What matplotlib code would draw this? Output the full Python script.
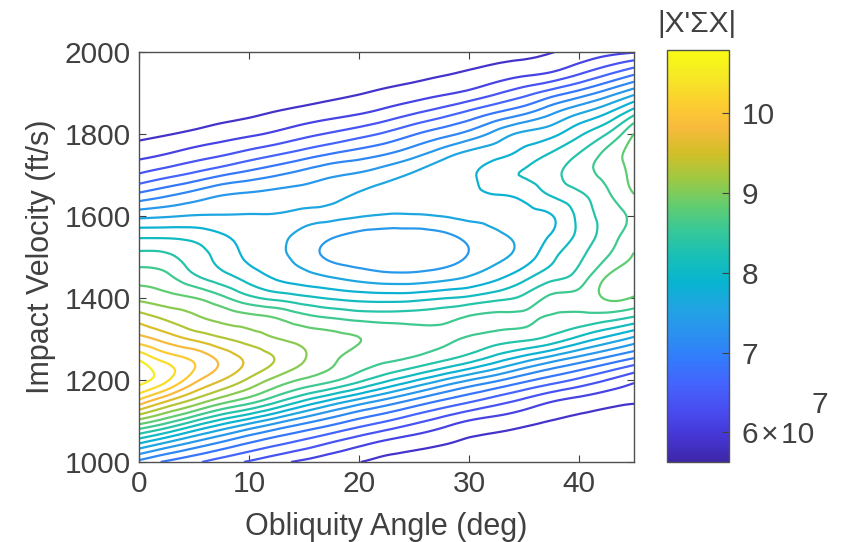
import numpy as np
import matplotlib
matplotlib.use("Agg")
import matplotlib.pyplot as plt
import matplotlib.tri as mtri
from matplotlib.colors import LinearSegmentedColormap, Normalize
from matplotlib.cm import ScalarMappable

# ---------------- data ----------------
angles = [0, 2.5, 5, 7.5, 10, 12.5, 15, 17.5, 20, 22.5, 25, 27.5, 30,
          32.5, 35, 37.5, 40, 42.5, 45]                       # deg
velocities = [1000, 1050, 1100, 1150, 1200, 1250, 1300, 1350, 1400, 1450,
              1500, 1550, 1600, 1650, 1700, 1750, 1800, 1850, 1900, 1950, 2000]  # ft/s

# |X'SX| in units of 1e7; one row per angle, values along the velocity grid
det_by_angle = [
    [7.03, 7.94, 8.99, 10.01, 10.65, 10.53, 9.91, 9.46, 9.01, 8.72, 8.43, 8.05, 7.53, 6.94, 6.40, 6.05, 5.80, 5.60, 5.45, 5.30, 5.14],
    [6.82, 7.64, 8.69, 9.60, 10.34, 10.22, 9.71, 9.28, 8.92, 8.64, 8.39, 8.05, 7.57, 7.08, 6.54, 6.13, 5.86, 5.65, 5.49, 5.34, 5.19],
    [6.66, 7.36, 8.34, 9.26, 9.89, 10.02, 9.52, 9.12, 8.83, 8.39, 8.20, 8.01, 7.61, 7.22, 6.68, 6.24, 5.93, 5.71, 5.54, 5.38, 5.23],
    [6.49, 7.12, 8.01, 8.95, 9.57, 9.75, 9.35, 9.01, 8.64, 8.19, 8.01, 7.88, 7.61, 7.35, 6.84, 6.34, 6.01, 5.77, 5.58, 5.43, 5.28],
    [6.34, 6.90, 7.73, 8.71, 9.27, 9.51, 9.21, 8.92, 8.40, 7.99, 7.79, 7.73, 7.61, 7.40, 6.97, 6.47, 6.08, 5.83, 5.63, 5.47, 5.32],
    [6.19, 6.72, 7.45, 8.41, 8.99, 9.30, 9.08, 8.83, 8.26, 7.81, 7.66, 7.65, 7.61, 7.44, 7.09, 6.60, 6.17, 5.90, 5.69, 5.52, 5.36],
    [6.07, 6.56, 7.20, 8.09, 8.79, 9.08, 8.99, 8.68, 8.15, 7.70, 7.49, 7.52, 7.63, 7.47, 7.21, 6.74, 6.29, 5.97, 5.74, 5.56, 5.41],
    [5.97, 6.39, 6.99, 7.80, 8.63, 8.87, 8.90, 8.59, 8.06, 7.60, 7.30, 7.38, 7.63, 7.52, 7.32, 6.88, 6.40, 6.04, 5.80, 5.61, 5.45],
    [5.88, 6.23, 6.79, 7.53, 8.40, 8.71, 8.83, 8.52, 8.00, 7.51, 7.22, 7.26, 7.61, 7.63, 7.39, 6.99, 6.52, 6.11, 5.86, 5.66, 5.50],
    [5.81, 6.09, 6.62, 7.29, 8.14, 8.62, 8.75, 8.49, 7.98, 7.45, 7.18, 7.22, 7.57, 7.68, 7.51, 7.11, 6.66, 6.22, 5.93, 5.72, 5.54],
    [5.75, 6.00, 6.44, 7.06, 7.88, 8.53, 8.68, 8.49, 8.00, 7.45, 7.18, 7.22, 7.57, 7.70, 7.63, 7.28, 6.84, 6.36, 6.00, 5.78, 5.59],
    [5.68, 5.92, 6.27, 6.85, 7.61, 8.38, 8.62, 8.52, 8.07, 7.51, 7.24, 7.28, 7.60, 7.72, 7.73, 7.49, 7.01, 6.51, 6.08, 5.84, 5.63],
    [5.62, 5.84, 6.11, 6.67, 7.36, 8.19, 8.55, 8.61, 8.14, 7.62, 7.37, 7.42, 7.65, 7.77, 7.80, 7.67, 7.19, 6.69, 6.18, 5.90, 5.69],
    [5.57, 5.78, 6.03, 6.49, 7.15, 7.94, 8.45, 8.64, 8.26, 7.79, 7.54, 7.55, 7.68, 7.83, 7.99, 7.77, 7.44, 6.89, 6.34, 5.98, 5.75],
    [5.53, 5.71, 5.95, 6.32, 6.93, 7.69, 8.38, 8.62, 8.40, 8.02, 7.71, 7.67, 7.77, 7.90, 8.10, 7.93, 7.65, 7.08, 6.52, 6.05, 5.81],
    [5.48, 5.65, 5.87, 6.15, 6.74, 7.45, 8.24, 8.54, 8.62, 8.26, 8.03, 7.87, 7.83, 8.10, 8.25, 8.12, 7.77, 7.33, 6.73, 6.13, 5.87],
    [5.43, 5.60, 5.81, 6.05, 6.56, 7.23, 8.00, 8.49, 8.65, 8.44, 8.29, 8.15, 8.15, 8.28, 8.47, 8.35, 8.04, 7.59, 6.95, 6.32, 5.95],
    [5.39, 5.55, 5.74, 5.97, 6.37, 7.02, 7.76, 8.42, 8.85, 8.84, 8.57, 8.45, 8.43, 8.53, 8.64, 8.65, 8.33, 7.84, 7.21, 6.54, 6.04],
    [5.34, 5.50, 5.68, 5.91, 6.18, 6.81, 7.52, 8.27, 8.80, 8.92, 8.85, 8.70, 8.63, 8.81, 8.91, 8.93, 8.83, 8.27, 7.52, 6.78, 6.10],
]

color_min, color_max = 5.63, 10.79      # colour-bar limits (x 1e7)
n_levels = 20
x_ticks = [0, 10, 20, 30, 40]
y_ticks = [1000, 1200, 1400, 1600, 1800, 2000]
cbar_ticks = [6, 7, 8, 9, 10]
cbar_ticklabels = ["6\u200a×\u200a10", "7", "8", "9", "10"]
cbar_exponent = "7"
x_label = "Obliquity Angle (deg)"
y_label = "Impact Velocity (ft/s)"
cbar_title = "|X'ΣX|"

# ---------------- style ----------------
parula_anchors = [
    (0.2422, 0.1504, 0.6603), (0.2706, 0.2147, 0.8364), (0.2813, 0.3006, 0.9414),
    (0.2699, 0.3892, 0.9906), (0.1963, 0.4847, 0.9892), (0.1687, 0.5703, 0.9359),
    (0.1248, 0.6459, 0.8883), (0.0297, 0.7082, 0.8163), (0.0964, 0.7500, 0.7120),
    (0.2161, 0.7843, 0.5923), (0.3909, 0.8029, 0.4354), (0.6174, 0.7876, 0.2612),
    (0.8203, 0.7498, 0.1535), (0.9728, 0.7298, 0.2394), (0.9892, 0.8136, 0.1885),
    (0.9597, 0.9135, 0.1423), (0.9769, 0.9839, 0.0805)]
parula = LinearSegmentedColormap.from_list("parula", parula_anchors, N=256)

TXT = "#404040"
plt.rcParams["font.family"] = ["Liberation Sans", "DejaVu Sans"]

fig = plt.figure(figsize=(8.44, 5.42), dpi=100)
ax = fig.add_axes([0.1647, 0.1476, 0.5865, 0.7565])

# grid -> triangulation (velocity scaled so cells are square for the cubic fit)
nx, ny = len(angles), len(velocities)
A, V = np.meshgrid(angles, velocities)
Z = np.array(det_by_angle).T
vscale = 20.0
tris = []
for j in range(ny - 1):
    for i in range(nx - 1):
        p = j * nx + i
        tris.append([p, p + 1, p + nx + 1])
        tris.append([p, p + nx + 1, p + nx])
tri = mtri.Triangulation(A.ravel(), V.ravel() / vscale, np.array(tris))
interp = mtri.CubicTriInterpolator(tri, Z.ravel(), kind="min_E")
tri_f, z_f = mtri.UniformTriRefiner(tri).refine_field(Z.ravel(), triinterpolator=interp, subdiv=3)
tri_plot = mtri.Triangulation(tri_f.x, tri_f.y * vscale, tri_f.triangles)

norm = Normalize(vmin=color_min, vmax=color_max)
levels = np.linspace(color_min, color_max, n_levels + 2)[1:-1]
ax.tricontour(tri_plot, z_f, levels=levels, cmap=parula, norm=norm, linewidths=1.6)

ax.set_xlim(0, 45)
ax.set_ylim(1000, 2000)
ax.set_xticks(x_ticks)
ax.set_yticks(y_ticks)
ax.tick_params(direction="in", top=True, right=True, length=5, width=0.8,
               colors=TXT, labelsize=21.5, pad=6)
for s in ax.spines.values():
    s.set_color("#505050")
    s.set_linewidth(1.0)
ax.set_xlabel(x_label, fontsize=22, color=TXT, labelpad=10)
ax.set_ylabel(y_label, fontsize=22, color=TXT, labelpad=6)

cax = fig.add_axes([0.7903, 0.1476, 0.0735, 0.7601])
cb = fig.colorbar(ScalarMappable(norm=norm, cmap=parula), cax=cax)
cb.set_ticks(cbar_ticks)
cb.set_ticklabels(cbar_ticklabels)
cax.tick_params(direction="in", length=5, width=0.8, colors=TXT,
                labelsize=21.5, pad=9)
cb.outline.set_edgecolor("#505050")
cb.outline.set_linewidth(1.0)
fig.text(0.962, 0.2528, cbar_exponent, fontsize=21.5, color=TXT,
         ha="left", va="center")
fig.text(0.826, 0.9557, cbar_title, fontsize=21.5, color=TXT,
         ha="center", va="center")

fig.savefig("out.png", dpi=100)
